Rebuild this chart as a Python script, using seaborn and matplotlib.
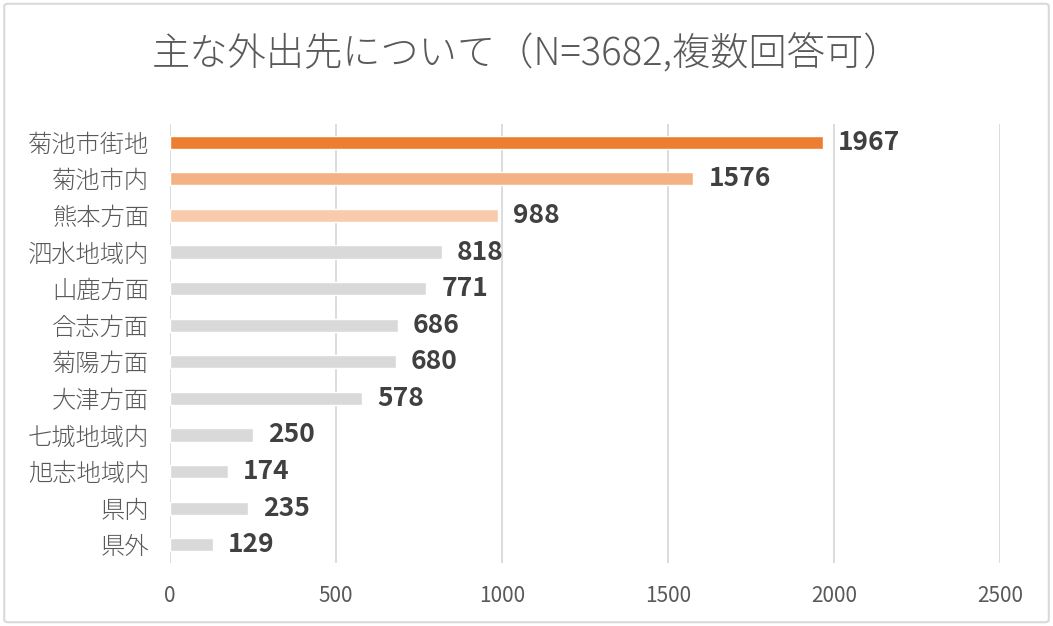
import pandas as pd
import seaborn as sns
import matplotlib.pyplot as plt
from matplotlib.patches import FancyBboxPatch

# === datos ===
categories = ['菊池市街地', '菊池市内', '熊本方面', '泗水地域内', '山鹿方面', '合志方面',
              '菊陽方面', '大津方面', '七城地域内', '旭志地域内', '県内', '県外']
values = [1967, 1576, 988, 818, 771, 686, 680, 578, 250, 174, 235, 129]
bar_colors = ['#ED7D31', '#F4B183', '#F8CBAD'] + ['#D9D9D9'] * 9
x_ticks = [0, 500, 1000, 1500, 2000, 2500]

df = pd.DataFrame({'destino': categories, 'n': values})

sns.set_theme(style='white')
plt.rcParams['font.family'] = ['Noto Sans CJK JP', 'DejaVu Sans']

fig = plt.figure(figsize=(10.53, 6.26), dpi=100)
ax = fig.add_axes([0.1615, 0.1006, 0.7882, 0.7014])

sns.barplot(data=df, x='n', y='destino', hue='destino', palette=bar_colors,
            legend=False, width=0.36, saturation=1, ax=ax)

# etiquetas de valor
for cont in ax.containers:
    ax.bar_label(cont, padding=11, fontsize=19, fontweight='bold', color='#404040')

ax.set_xlim(0, 2500)
ax.set_ylim(11.5, -0.5)
ax.set_xticks(x_ticks)
ax.set_xticklabels([str(t) for t in x_ticks])
ax.xaxis.grid(True, color='#D9D9D9', linewidth=1.3)
ax.set_axisbelow(True)
for s in ax.spines.values():
    s.set_visible(False)
ax.tick_params(axis='x', length=0, pad=16, labelsize=15, labelcolor='#595959')
ax.tick_params(axis='y', length=0, pad=15, labelsize=17.5, labelcolor='#595959')
for lbl in ax.get_yticklabels():
    lbl.set_fontweight('light')
ax.set_xlabel('')
ax.set_ylabel('')

fig.text(0.5, 0.912, '主な外出先について（N=3682,複数回答可）', ha='center', va='center',
         fontsize=27.5, color='#595959', fontweight='light')

# marco del gráfico
frame = FancyBboxPatch((0.004, 0.006), 0.992, 0.988, boxstyle='round,pad=0,rounding_size=0.004',
                       transform=fig.transFigure, fill=False, edgecolor='#D9D9D9', linewidth=1.5)
fig.patches.append(frame)

plt.savefig('out.png', dpi=100)
plt.close()
